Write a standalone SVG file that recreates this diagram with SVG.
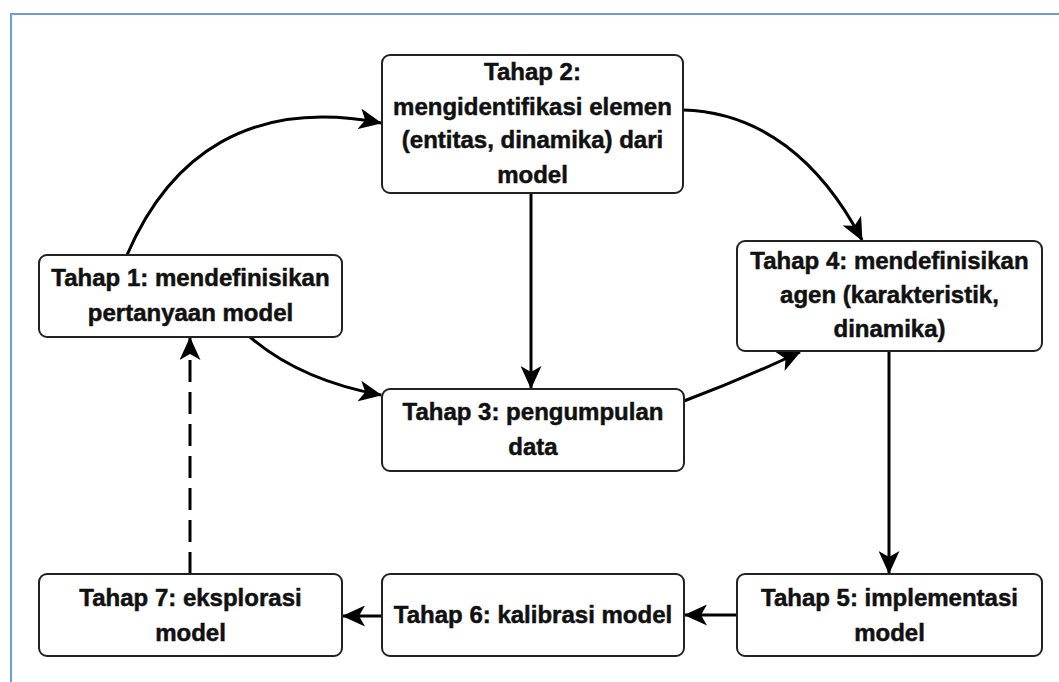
<svg xmlns="http://www.w3.org/2000/svg" width="1059" height="682" viewBox="0 0 1059 682">
<style>
.box{fill:#fff;stroke:#222;stroke-width:2}
.t{font-family:"Liberation Sans",Arial,sans-serif;font-weight:bold;font-size:24px;fill:#111;stroke:#111;stroke-width:0.5;text-anchor:middle}
.c{fill:none;stroke:#000;stroke-width:3}
</style>
<defs>
<marker id="ah" markerUnits="userSpaceOnUse" markerWidth="23" markerHeight="21" viewBox="0 0 23 21" refX="22" refY="10.5" orient="auto">
<path d="M0,0 L23,10.5 L0,21 L6,10.5 Z" fill="#000"/>
</marker>
</defs>
<rect x="11" y="14" width="1100" height="700" fill="#fff" stroke="#6a9fd8" stroke-width="2"/>
<g id="connectors">
<path class="c" d="M127,255 C170,155 250,98 381,123" marker-end="url(#ah)"/>
<path class="c" d="M683,110 C760,112 820,160 862,240" marker-end="url(#ah)"/>
<path class="c" d="M531,193 L531,388" marker-end="url(#ah)"/>
<path class="c" d="M250,337 Q300,380 381,395" marker-end="url(#ah)"/>
<path class="c" d="M684,401 Q745,378 800,352" marker-end="url(#ah)"/>
<path class="c" d="M889,351 L889,573" marker-end="url(#ah)"/>
<path class="c" d="M737,615 L685,615" marker-end="url(#ah)"/>
<path class="c" d="M382,616 L343,616" marker-end="url(#ah)"/>
<path class="c" d="M190,574 L190,338" stroke-dasharray="22 10" marker-end="url(#ah)"/>
</g>
<g id="tahap1">
<rect class="box" x="39" y="255" width="303" height="82" rx="8"/>
<text class="t" x="190.5" y="286">Tahap 1: mendefinisikan</text>
<text class="t" x="190.5" y="321">pertanyaan model</text>
</g>
<g id="tahap2">
<rect class="box" x="382" y="55" width="301" height="138" rx="8"/>
<text class="t" x="532.5" y="80">Tahap 2:</text>
<text class="t" x="532.5" y="115">mengidentifikasi elemen</text>
<text class="t" x="532.5" y="148">(entitas, dinamika) dari</text>
<text class="t" x="532.5" y="183">model</text>
</g>
<g id="tahap3">
<rect class="box" x="382" y="389" width="302" height="82" rx="8"/>
<text class="t" x="533" y="420">Tahap 3: pengumpulan</text>
<text class="t" x="533" y="455">data</text>
</g>
<g id="tahap4">
<rect class="box" x="737" y="241" width="305" height="110" rx="8"/>
<text class="t" x="889.5" y="269">Tahap 4: mendefinisikan</text>
<text class="t" x="889.5" y="303">agen (karakteristik,</text>
<text class="t" x="889.5" y="337">dinamika)</text>
</g>
<g id="tahap5">
<rect class="box" x="737" y="574" width="305" height="82" rx="8"/>
<text class="t" x="889.5" y="606">Tahap 5: implementasi</text>
<text class="t" x="889.5" y="641">model</text>
</g>
<g id="tahap6">
<rect class="box" x="382" y="574" width="302" height="82" rx="8"/>
<text class="t" x="533" y="623">Tahap 6: kalibrasi model</text>
</g>
<g id="tahap7">
<rect class="box" x="39" y="574" width="303" height="82" rx="8"/>
<text class="t" x="190.5" y="606">Tahap 7: eksplorasi</text>
<text class="t" x="190.5" y="641">model</text>
</g>
</svg>
